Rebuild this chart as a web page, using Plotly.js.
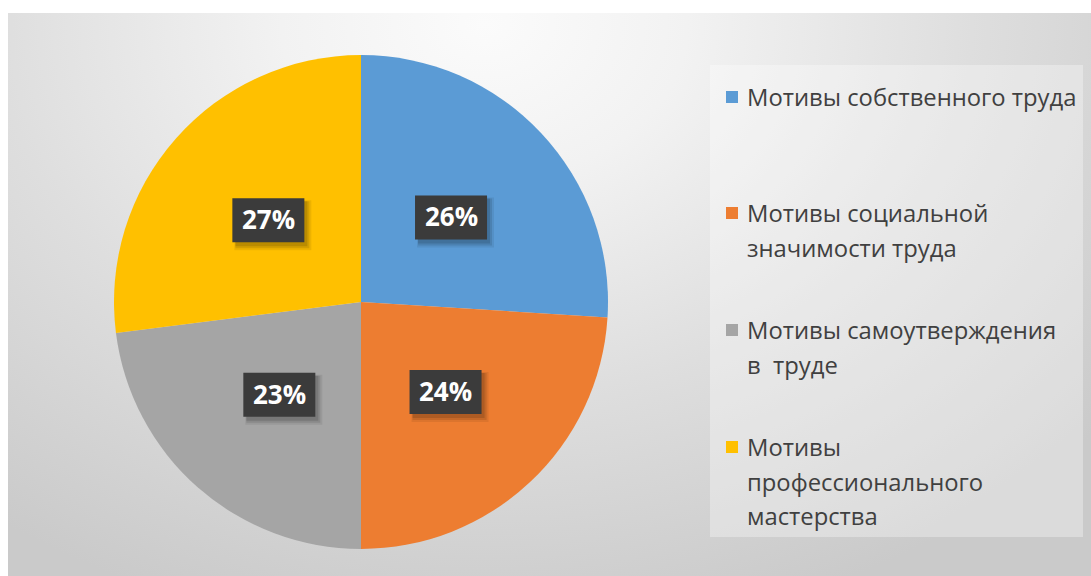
<!DOCTYPE html>
<html>
<head>
<meta charset="utf-8">
<script src="https://cdn.plot.ly/plotly-3.0.1.min.js"></script>
<style>
  html, body { margin: 0; padding: 0; background: #ffffff; }
  #wrap { position: relative; width: 1091px; height: 576px; overflow: hidden; background: #ffffff; }
  #bg { position: absolute; left: 8px; top: 13px; width: 1083px; height: 563px;
        background: radial-gradient(ellipse 75% 110% at 44% 2%, #fbfbfb 0%, #f2f2f2 25%, #dedede 60%, #cacaca 100%); }
  #chart { position: absolute; left: 0; top: 0; width: 1091px; height: 576px; }
</style>
</head>
<body>
<div id="wrap">
  <div id="bg"></div>
  <div id="chart"></div>
</div>
<script>
// ---- data ----
const categories = [
  "Мотивы собственного труда",
  "Мотивы социальной<br>значимости труда",
  "Мотивы самоутверждения<br>в  труде",
  "Мотивы<br>профессионального<br>мастерства"
];
const values = [26, 24, 23, 27];
const colors = ["#5B9BD5", "#ED7D31", "#A5A5A5", "#FFC000"];

// ---- layout geometry ----
const W = 1091, H = 576;
const cx = 361, cy = 302, R = 247;
const total = values.reduce((a, b) => a + b, 0);

const pie = {
  type: "pie",
  labels: categories,
  values: values,
  sort: false,
  direction: "clockwise",
  rotation: 0,
  marker: { colors: colors, line: { width: 0 } },
  textinfo: "none",
  hoverinfo: "label+percent",
  showlegend: false,
  domain: { x: [(cx - R) / W, (cx + R) / W], y: [1 - (cy + R) / H, 1 - (cy - R) / H] }
};

const annotations = [];
const shapes = [];

// data labels at half radius along each slice's mid-angle
let cum = 0;
const labelPos = values.map(v => {
  const mid = (cum + v / 2) / total * 2 * Math.PI;
  cum += v;
  const px = cx + 0.5 * R * Math.sin(mid);
  const py = cy - 0.5 * R * Math.cos(mid);
  return { x: px / W, y: 1 - py / H, t: Math.round(v / total * 100) + "%" };
});
const bw = 36, bh = 22;
function pixRect(p, dx0, dx1, dy0, dy1, fill) {
  return {
    type: "rect", xref: "paper", yref: "paper",
    xsizemode: "pixel", ysizemode: "pixel", xanchor: p.x, yanchor: p.y,
    x0: dx0, x1: dx1, y0: dy0, y1: dy1,
    fillcolor: fill, line: { width: 0 }, layer: "above"
  };
}
labelPos.forEach(p => {
  // soft drop shadow
  shapes.push(pixRect(p, -bw + 2, bw + 7, -bh - 8, bh - 2, "rgba(0,0,0,0.07)"));
  shapes.push(pixRect(p, -bw + 3, bw + 5, -bh - 6, bh - 3, "rgba(0,0,0,0.10)"));
  shapes.push(pixRect(p, -bw + 3, bw + 3, -bh - 4, bh - 3, "rgba(0,0,0,0.12)"));
  // box
  shapes.push(pixRect(p, -bw, bw, -bh, bh, "#3b3b3b"));
  annotations.push({
    xref: "paper", yref: "paper", x: p.x, y: p.y, yshift: 1,
    text: p.t, showarrow: false, xanchor: "center", yanchor: "middle",
    font: { family: "Open Sans", size: 26, color: "#ffffff", weight: 700 }
  });
});

// legend panel
shapes.push({
  type: "rect", xref: "paper", yref: "paper",
  x0: 710 / W, x1: 1083 / W, y0: 1 - 537 / H, y1: 1 - 65 / H,
  fillcolor: "rgba(255,255,255,0.32)", line: { width: 0 }, layer: "below"
});

// custom legend
const entryTop = [97, 213, 330, 447];
const lineGap = 34.5;
categories.forEach((c, i) => {
  const y0 = entryTop[i];
  shapes.push({
    type: "rect", xref: "paper", yref: "paper",
    x0: 726 / W, x1: 738 / W, y0: 1 - (y0 + 6) / H, y1: 1 - (y0 - 6) / H,
    fillcolor: colors[i], line: { width: 0 }
  });
  c.split("<br>").forEach((ln, j) => {
    annotations.push({
      xref: "paper", yref: "paper", x: 745 / W, y: 1 - (y0 + j * lineGap) / H,
      text: ln, showarrow: false, xanchor: "left", yanchor: "middle",
      font: { family: "Open Sans", size: 23.8, color: "#404040" }
    });
  });
});

const layout = {
  width: W, height: H,
  margin: { l: 0, r: 0, t: 0, b: 0 },
  paper_bgcolor: "rgba(0,0,0,0)",
  plot_bgcolor: "rgba(0,0,0,0)",
  showlegend: false,
  annotations: annotations,
  shapes: shapes
};

Plotly.newPlot("chart", [pie], layout, { displayModeBar: false, staticPlot: true });
</script>
</body>
</html>
